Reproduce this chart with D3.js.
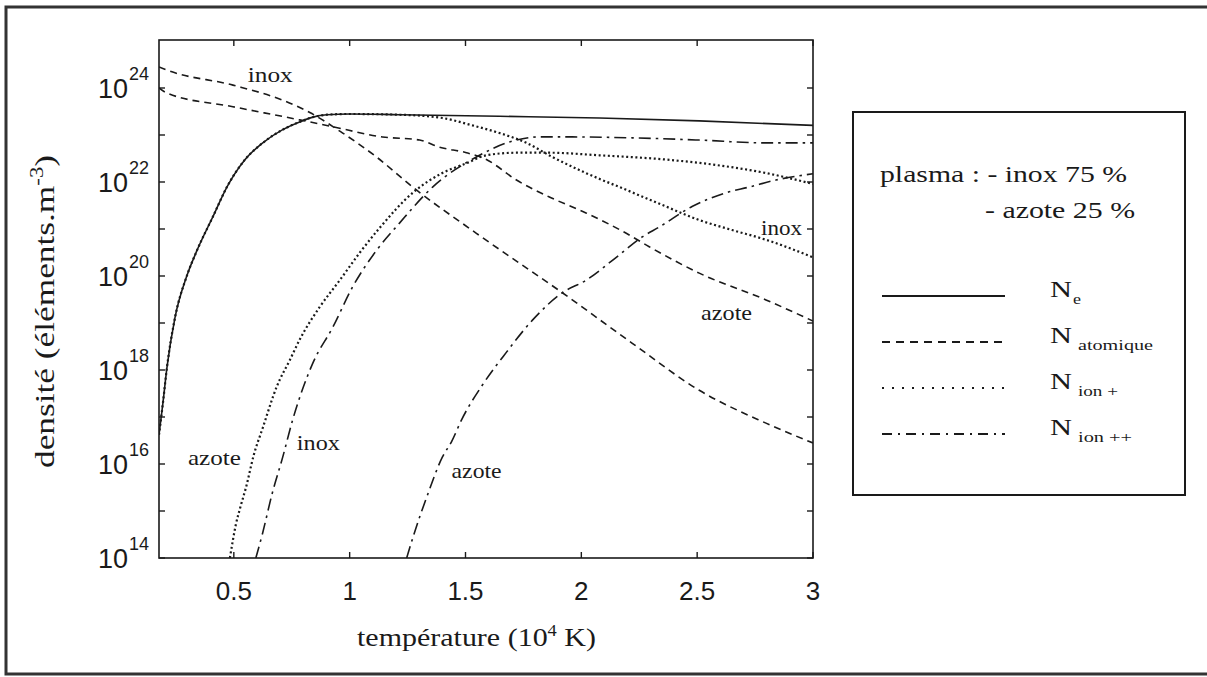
<!DOCTYPE html>
<html>
<head>
<meta charset="utf-8">
<script src="https://cdn.jsdelivr.net/npm/d3@7"></script>
<style>
  html, body { margin: 0; padding: 0; background: #fff; }
  svg { display: block; }
</style>
</head>
<body>
<svg id="chart" width="1207" height="677"></svg>
<script>
// ---------- DATA ----------
// temperature in 10^4 K, density in elements per m^3
const neT      = [0.177,0.194,0.211,0.246,0.297,0.341,0.409,0.470,0.547,0.625,0.711,0.784,0.841,0.901,1.0,1.216,1.647,2.078,2.509,3.0];
const neV      = [4.2e16,2.0e17,1.1e18,1.3e19,1.0e20,3.5e20,1.8e21,7.8e21,2.95e22,6.8e22,1.3e23,1.9e23,2.4e23,2.7e23,2.8e23,2.7e23,2.5e23,2.3e23,2.0e23,1.6e23];

const inoxIonT = [0.177,0.194,0.211,0.246,0.297,0.341,0.409,0.470,0.547,0.625,0.711,0.784,0.841,0.901,1.0,1.216,1.40,1.53,1.647,1.763,1.875,2.02,2.194,2.366,2.509,2.651,2.797,3.0];
const inoxIonV = [4.2e16,2.0e17,1.1e18,1.3e19,1.0e20,3.5e20,1.8e21,7.8e21,2.95e22,6.8e22,1.3e23,1.9e23,2.4e23,2.7e23,2.8e23,2.7e23,2.3e23,1.6e23,1.1e23,6.8e22,3.4e22,1.55e22,6.8e21,3.0e21,1.55e21,9.5e20,5.9e20,2.5e20];

const azoteIonT = [0.483,0.509,0.530,0.552,0.586,0.625,0.685,0.741,0.784,0.871,0.957,1.043,1.129,1.272,1.40,1.504,1.59,1.72,1.862,2.078,2.366,2.582,2.797,3.0];
const azoteIonV = [1.0e14,5.2e14,1.3e15,3.1e15,1.55e16,5.9e16,4.4e17,1.6e18,4.4e18,2.2e19,8.1e19,3.1e20,1.05e21,5.9e21,1.55e22,2.5e22,3.7e22,4.2e22,4.2e22,3.7e22,3.0e22,2.3e22,1.55e22,9.1e21];

const inoxAtomT = [0.177,0.211,0.496,0.711,0.828,0.970,1.116,1.272,1.547,1.918,2.22,2.509,2.797,3.0];
const inoxAtomV = [2.8e24,2.4e24,1.15e24,5.5e23,3.0e23,1.1e23,3.4e22,7.8e21,8.1e20,4.4e19,3.7e18,3.7e17,7.4e16,2.8e16];

const azoteAtomT = [0.177,0.211,0.496,0.784,0.927,1.142,1.302,1.388,1.504,1.59,1.72,1.862,2.02,2.194,2.293,2.509,2.797,3.0];
const azoteAtomV = [1.0e24,7.8e23,4.0e23,2.1e23,1.5e23,9.1e22,7.8e22,5.5e22,4.2e22,3.0e22,1.1e22,4.8e21,2.2e21,8.1e20,4.2e20,1.15e20,3.1e19,1.1e19];

const inoxIon2T = [0.595,0.625,0.664,0.711,0.754,0.841,0.927,1.013,1.116,1.216,1.358,1.547,1.69,1.819,1.961,2.22,2.509,2.797,3.0];
const inoxIon2V = [1.0e14,3.5e14,2.2e15,1.4e16,8.7e16,1.4e18,8.1e18,5.9e19,3.5e20,1.35e21,7.8e21,3.4e22,7.1e22,9.1e22,9.1e22,8.7e22,7.8e22,6.8e22,6.8e22];

const azoteIon2T = [1.246,1.28,1.336,1.40,1.44,1.483,1.573,1.677,1.789,1.918,2.02,2.151,2.263,2.336,2.478,2.625,2.724,2.84,3.0];
const azoteIon2V = [1.0e14,3.5e14,2.2e15,1.4e16,3.0e16,8.7e16,4.8e17,2.4e18,1.15e19,4.4e19,8.1e19,2.5e20,6.8e20,1.1e21,3.0e21,5.9e21,7.8e21,1.1e22,1.5e22];

const xTicks = [0.5, 1, 1.5, 2, 2.5, 3];
const xTickLabels = ["0.5", "1", "1.5", "2", "2.5", "3"];
const yTickExps = [14,15,16,17,18,19,20,21,22,23,24];
const yLabelExps = [14,16,18,20,22,24];

const legendNames = ["e", "atomique", "ion +", "ion ++"];
const legendStyles = ["solid", "dashed", "dotted", "dashdot"];

const curveLabels = [
  {text:"inox",  x:0.56,  y:1.35e24, w:45},
  {text:"inox",  x:2.776, y:7.4e20,  w:41},
  {text:"azote", x:2.517, y:1.15e19, w:51},
  {text:"azote", x:0.302, y:9.5e15,  w:53},
  {text:"inox",  x:0.772, y:2.0e16,  w:43},
  {text:"azote", x:1.44,  y:5.0e15,  w:50}
];

// ---------- LAYOUT ----------
const svg = d3.select("#chart");
const X0 = 159, X1 = 813, Y0 = 40, Y1 = 558;
const x = d3.scaleLinear().domain([0.177, 3]).range([X0, X1]);
const y = d3.scaleLog().domain([1e14, 1.05e25]).range([Y1, Y0]);

const INK = "#1a1a1a";
const dashes = { solid: null, dashed: "7,5", dotted: "2,2.6", dashdot: "12,5,2.5,5" };

// outer frame (left, top, bottom)
svg.append("path")
  .attr("d", "M1207,7 H6 V674 H1207")
  .attr("fill", "none").attr("stroke", "#333").attr("stroke-width", 3);

// clip
svg.append("clipPath").attr("id", "clip")
  .append("rect").attr("x", X0).attr("y", Y0).attr("width", X1 - X0).attr("height", Y1 - Y0);

// plot box
svg.append("rect").attr("x", X0).attr("y", Y0).attr("width", X1 - X0).attr("height", Y1 - Y0)
  .attr("fill", "none").attr("stroke", INK).attr("stroke-width", 1.6);

// ticks (inward)
const tk = svg.append("g").attr("stroke", INK).attr("stroke-width", 1.4);
xTicks.forEach(t => {
  tk.append("line").attr("x1", x(t)).attr("x2", x(t)).attr("y1", Y1).attr("y2", Y1 - 6);
  tk.append("line").attr("x1", x(t)).attr("x2", x(t)).attr("y1", Y0).attr("y2", Y0 + 6);
});
yTickExps.forEach(e => {
  const v = Math.pow(10, e);
  tk.append("line").attr("x1", X0).attr("x2", X0 + 6).attr("y1", y(v)).attr("y2", y(v));
  tk.append("line").attr("x1", X1).attr("x2", X1 - 6).attr("y1", y(v)).attr("y2", y(v));
});

// x tick labels
const SANS = "'Liberation Sans', Arial, Helvetica, sans-serif";
const SERIF = "'Liberation Serif', 'Times New Roman', Times, serif";
xTicks.forEach((t, i) => {
  svg.append("text").attr("x", x(t)).attr("y", 600)
    .attr("text-anchor", "middle").attr("font-family", SANS).attr("font-size", 26)
    .attr("fill", INK).text(xTickLabels[i]);
});
// y tick labels 10^n
yLabelExps.forEach(e => {
  const yy = y(Math.pow(10, e));
  svg.append("text").attr("x", 128).attr("y", yy + 10)
    .attr("text-anchor", "end").attr("font-family", SANS).attr("font-size", 27)
    .attr("fill", INK).text("10");
  svg.append("text").attr("x", 129).attr("y", yy - 8)
    .attr("text-anchor", "start").attr("font-family", SANS).attr("font-size", 18)
    .attr("fill", INK).text(String(e));
});

// axis titles
const xt = svg.append("text").attr("x", 357).attr("y", 646)
  .attr("font-family", SERIF).attr("font-size", 26).attr("fill", INK)
  .attr("textLength", 239).attr("lengthAdjust", "spacingAndGlyphs");
xt.append("tspan").text("température (10");
xt.append("tspan").attr("dy", -10).attr("font-size", 16).text("4");
xt.append("tspan").attr("dy", 10).text(" K)");

const yt = svg.append("text").attr("transform", "translate(54,468) rotate(-90)")
  .attr("x", 0).attr("y", 0)
  .attr("font-family", SERIF).attr("font-size", 28).attr("fill", INK)
  .attr("textLength", 313).attr("lengthAdjust", "spacingAndGlyphs");
yt.append("tspan").text("densité (éléments.m");
yt.append("tspan").attr("dy", -11).attr("font-size", 18).text("-3");
yt.append("tspan").attr("dy", 11).text(")");

// curves
const line = d3.line().x(d => x(d[0])).y(d => y(d[1])).curve(d3.curveMonotoneX);
const series = [
  {T: azoteAtomT, V: azoteAtomV, style: "dashed"},
  {T: inoxAtomT,  V: inoxAtomV,  style: "dashed"},
  {T: inoxIon2T,  V: inoxIon2V,  style: "dashdot"},
  {T: azoteIon2T, V: azoteIon2V, style: "dashdot"},
  {T: azoteIonT,  V: azoteIonV,  style: "dotted"},
  {T: inoxIonT,   V: inoxIonV,   style: "dotted"},
  {T: neT,        V: neV,        style: "solid"}
];
const cg = svg.append("g").attr("clip-path", "url(#clip)");
series.forEach(s => {
  const pts = s.T.map((t, i) => [t, s.V[i]]);
  cg.append("path").attr("d", line(pts))
    .attr("fill", "none").attr("stroke", INK)
    .attr("stroke-width", s.style === "dotted" ? 2.2 : 1.6)
    .attr("stroke-dasharray", dashes[s.style]);
});

// in-plot labels
curveLabels.forEach(l => {
  svg.append("text").attr("x", x(l.x)).attr("y", y(l.y))
    .attr("font-family", SERIF).attr("font-size", 22).attr("fill", INK)
    .attr("textLength", l.w).attr("lengthAdjust", "spacingAndGlyphs")
    .text(l.text);
});

// legend box
svg.append("rect").attr("x", 853).attr("y", 112).attr("width", 332).attr("height", 383)
  .attr("fill", "none").attr("stroke", INK).attr("stroke-width", 2);
svg.append("text").attr("x", 880).attr("y", 182)
  .attr("font-family", SERIF).attr("font-size", 24).attr("fill", INK)
  .attr("textLength", 247).attr("lengthAdjust", "spacingAndGlyphs")
  .text("plasma : - inox 75 %");
svg.append("text").attr("x", 985).attr("y", 218)
  .attr("font-family", SERIF).attr("font-size", 24).attr("fill", INK)
  .attr("textLength", 150).attr("lengthAdjust", "spacingAndGlyphs")
  .text("- azote 25 %");

const legY = [296, 342, 388, 434];
const legDash = { solid: null, dashed: "8,6", dotted: "2,8", dashdot: "10,6,2,6" };
const subW = [8, 75, 40, 54];
legendNames.forEach((n, i) => {
  svg.append("line").attr("x1", 882).attr("x2", 1005).attr("y1", legY[i]).attr("y2", legY[i])
    .attr("stroke", INK).attr("stroke-width", legendStyles[i] === "dotted" ? 2.2 : 2)
    .attr("stroke-dasharray", legDash[legendStyles[i]]);
  svg.append("text").attr("x", 1050).attr("y", legY[i] + 1)
    .attr("font-family", SERIF).attr("font-size", 24).attr("fill", INK)
    .attr("textLength", 22).attr("lengthAdjust", "spacingAndGlyphs").text("N");
  svg.append("text").attr("x", i === 0 ? 1073 : 1078).attr("y", legY[i] + 8)
    .attr("font-family", SERIF).attr("font-size", 15).attr("fill", INK)
    .attr("textLength", subW[i]).attr("lengthAdjust", "spacingAndGlyphs").text(n);
});
</script>
</body>
</html>
